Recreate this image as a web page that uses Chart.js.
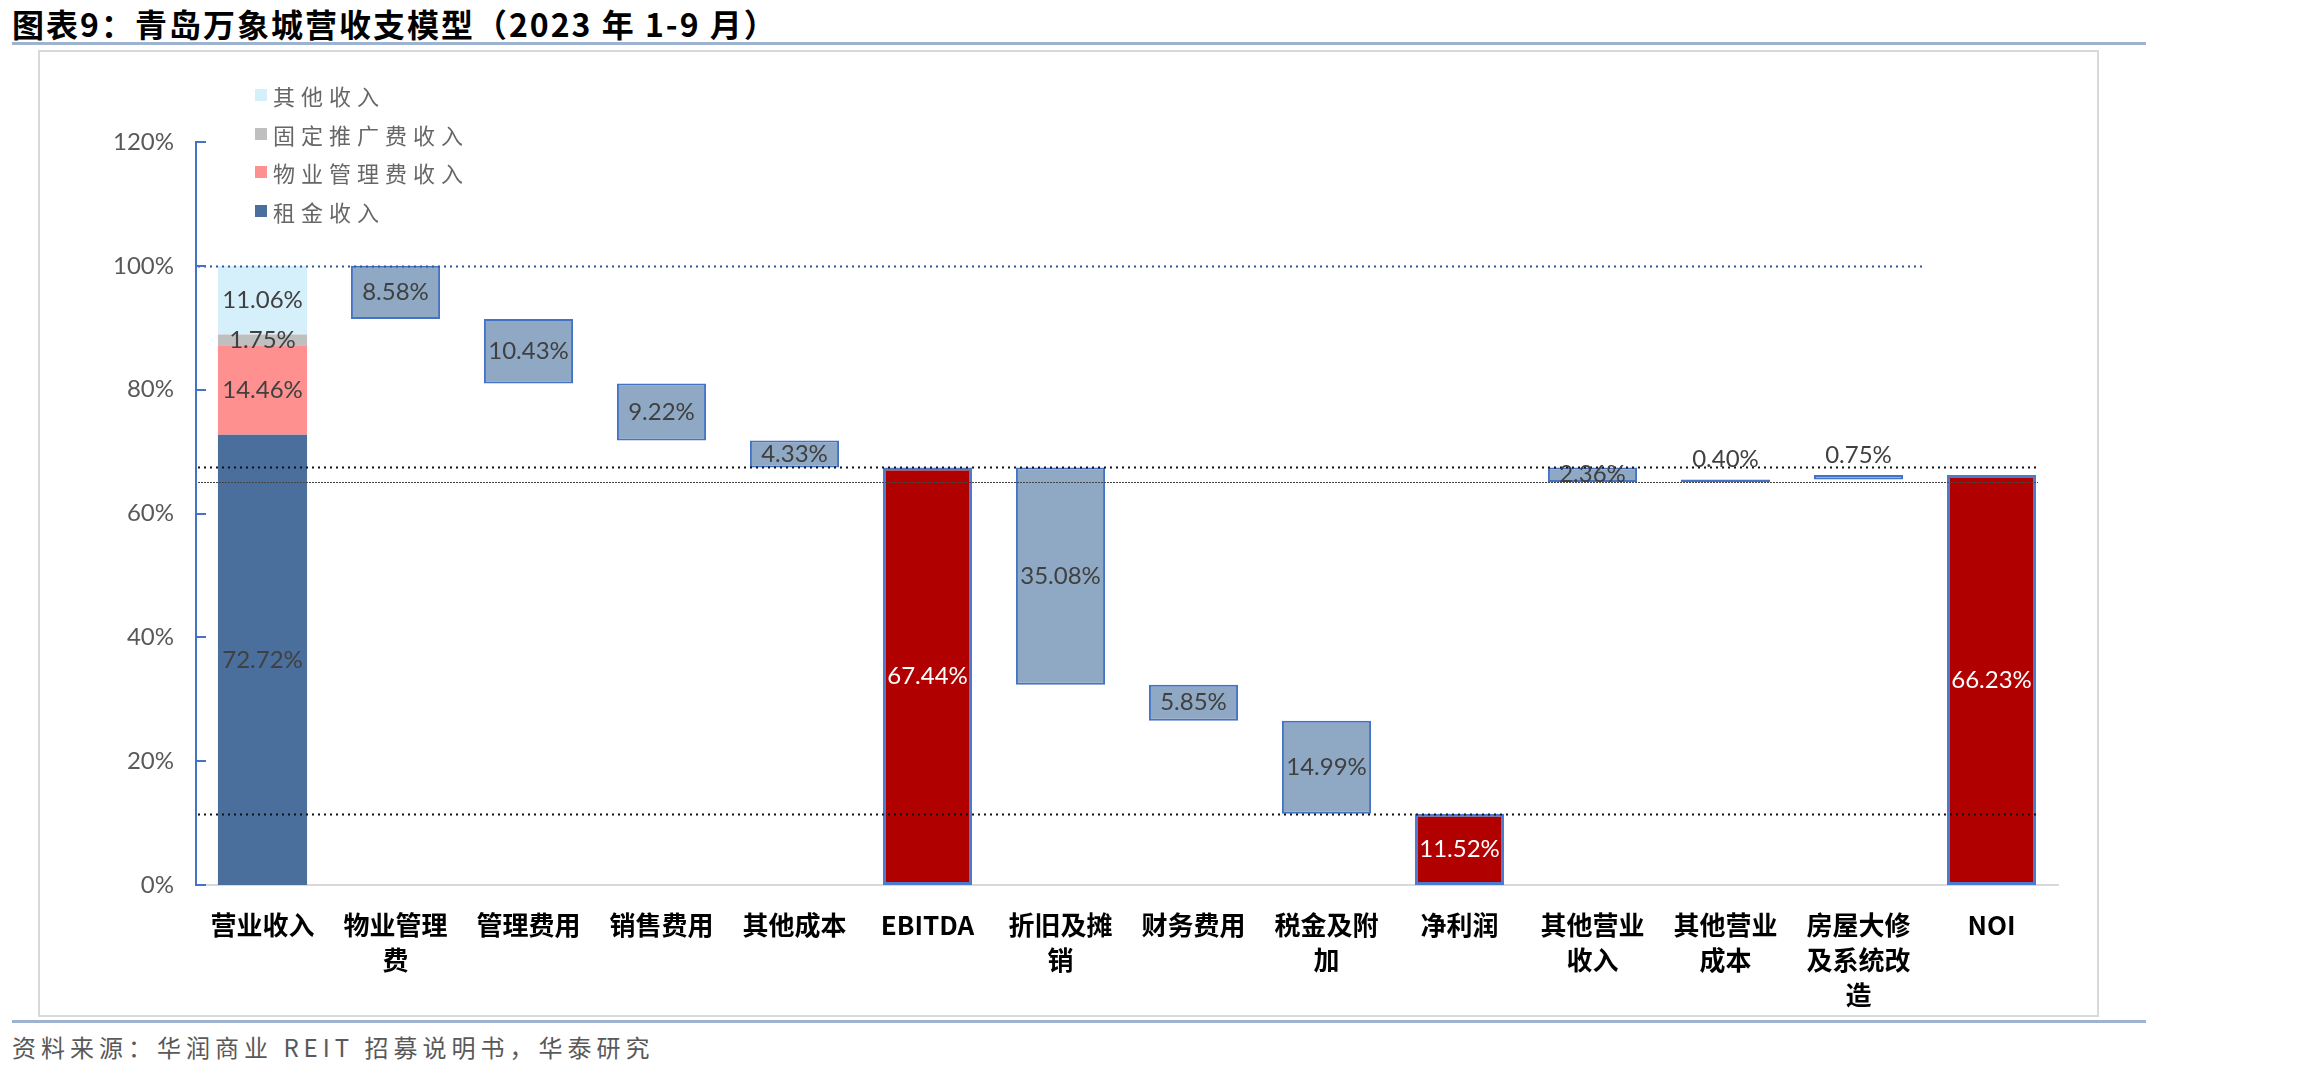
<!DOCTYPE html>
<html>
<head>
<meta charset="utf-8">
<script src="https://cdn.jsdelivr.net/npm/chart.js@4.4.1/dist/chart.umd.min.js"></script>
<style>
  body { margin: 0; width: 2298px; height: 1076px; background: #fff; position: relative; overflow: hidden; }
  #title { position: absolute; left: 12px; top: 0px; font: bold 32px "Noto Sans CJK SC"; letter-spacing: 2px; color: #000; }
  .rule { position: absolute; left: 12px; width: 2134px; height: 3px; background: #9DB3CF; }
  #box { position: absolute; left: 38px; top: 50px; width: 2057px; height: 963px; border: 2px solid #D9D9D9; }
  #source { position: absolute; left: 12px; top: 1029px; font: 24px "Noto Sans CJK SC"; letter-spacing: 5px; color: #595959; }
  #legend { position: absolute; left: 255px; top: 76px; z-index: 2; }
  .item { height: 38.5px; display: flex; align-items: center; font: 22px "Noto Sans CJK SC"; letter-spacing: 6px; color: #666; }
  .item span { width: 12px; height: 12px; margin-right: 6px; }
  canvas { position: absolute; left: 0; top: 0; z-index: 1; }
</style>
</head>
<body>
<div id="title">图表9：青岛万象城营收支模型（2023 年 1-9 月）</div>
<div class="rule" style="top:42px"></div>
<div id="box"></div>
<div class="rule" style="top:1020px"></div>
<div id="source">资料来源：华润商业 REIT 招募说明书，华泰研究</div>
<div id="legend"></div>
<canvas id="chart" width="2298" height="1076"></canvas>
<script>
// categories on the x axis
const categories = ['营业收入', '物业管理费', '管理费用', '销售费用', '其他成本', 'EBITDA', '折旧及摊销',
  '财务费用', '税金及附加', '净利润', '其他营业收入', '其他营业成本', '房屋大修及系统改造', 'NOI'];

// revenue split of the first bar (%)
const revenueNames = ['租金收入', '物业管理费收入', '固定推广费收入', '其他收入'];
const revenueValues = [72.72, 14.46, 1.75, 11.06];
const revenueColors = ['#4A6F9C', '#FF9090', '#BFBFBF', '#D5F0FB'];

// waterfall steps (%), negative = cost taken off, positive = added back
const stepValues = [null, -8.58, -10.43, -9.22, -4.33, null, -35.08, -5.85, -14.99, null, -2.36, 0.40, 0.75, null];
// subtotal bars (%)
const totalValues = [null, null, null, null, null, 67.44, null, null, null, 11.52, null, null, null, 66.23];

const yTicks = [0, 20, 40, 60, 80, 100, 120];

// excel wraps the long chinese labels every 4 characters
function wrapLabel(s) {
  if (/^[A-Za-z]+$/.test(s)) return s;
  const lines = [];
  for (let i = 0; i < s.length; i += 4) lines.push(s.slice(i, i + 4));
  return lines;
}

// revenue stack as floating segments
const n = categories.length;
let acc = 0;
const revenueSets = revenueValues.map((v, k) => {
  const data = new Array(n).fill(null);
  data[0] = [acc, acc + v];
  acc += v;
  return {
    label: revenueNames[k], data: data, backgroundColor: revenueColors[k],
    borderWidth: 0, amounts: [v], labelColor: '#404040', order: 2
  };
});

// floating step bars
let level = Math.round(acc);
const stepData = new Array(n).fill(null);
categories.forEach((c, i) => {
  if (c === '其他营业收入') level = totalValues[categories.indexOf('EBITDA')];
  if (totalValues[i] !== null) { level = totalValues[i]; return; }
  if (stepValues[i] === null) return;
  stepData[i] = [level, level + stepValues[i]];
  level += stepValues[i];
});
const totalData = totalValues.map(v => v === null ? null : [0, v]);

// legend built from the revenue series, top item first like the original
const legend = document.getElementById('legend');
revenueNames.slice().reverse().forEach((name, k) => {
  const color = revenueColors[revenueNames.length - 1 - k];
  legend.insertAdjacentHTML('beforeend', '<div class="item"><span style="background:' + color + '"></span>' + name + '</div>');
});

const fmt = v => Math.abs(v).toFixed(2) + '%';

const guidePlugin = {
  id: 'guides',
  afterDatasetsDraw(chart) {
    const { ctx, chartArea, scales: { x, y } } = chart;
    const half = (x.getPixelForValue(1) - x.getPixelForValue(0)) / 2;
    const ebitda = totalValues[categories.indexOf('EBITDA')];
    const net = totalValues[categories.indexOf('净利润')];
    const bridgeLow = ebitda + stepValues[categories.indexOf('其他营业收入')];
    const noiRight = x.getPixelForValue(n - 1) + half * 0.7;
    const lines = [
      { v: Math.round(acc), to: x.getPixelForValue(n - 2) + half, color: '#2F5597', w: 2, dash: [2, 4] },
      { v: ebitda, to: noiRight, color: '#111', w: 2, dash: [2, 4] },
      { v: bridgeLow, to: noiRight, color: '#444', w: 1.2, dash: [2, 1] },
      { v: net, to: noiRight, color: '#111', w: 2, dash: [2, 4] }
    ];
    ctx.save();
    lines.forEach(l => {
      const py = Math.round(y.getPixelForValue(l.v)) + 0.5;
      ctx.strokeStyle = l.color;
      ctx.lineWidth = l.w;
      ctx.setLineDash(l.dash);
      ctx.beginPath();
      ctx.moveTo(chartArea.left + 2, py);
      ctx.lineTo(l.to, py);
      ctx.stroke();
    });
    ctx.setLineDash([]);
    // tick marks point into the plot
    ctx.strokeStyle = '#4472C4';
    ctx.lineWidth = 2;
    yTicks.forEach(t => {
      const py = Math.round(y.getPixelForValue(t));
      ctx.beginPath();
      ctx.moveTo(chartArea.left, py);
      ctx.lineTo(chartArea.left + 10, py);
      ctx.stroke();
    });
    // value labels
    ctx.font = '24px Lato';
    ctx.textAlign = 'center';
    ctx.textBaseline = 'middle';
    chart.data.datasets.forEach((ds, di) => {
      const meta = chart.getDatasetMeta(di);
      let k = 0;
      meta.data.forEach((el, i) => {
        if (ds.data[i] === null) return;
        const p = el.getProps(['x', 'y', 'base'], true);
        const amount = ds.amounts[k++];
        const h = Math.abs(p.base - p.y);
        const ty = h < 8 ? Math.min(p.y, p.base) - 20 : (p.y + p.base) / 2;
        ctx.fillStyle = ds.labelColor;
        ctx.fillText(fmt(amount), p.x, ty);
      });
    });
    ctx.restore();
  }
};

const chart = new Chart(document.getElementById('chart'), {
  type: 'bar',
  data: {
    labels: categories.map(wrapLabel),
    datasets: [
      ...revenueSets,
      {
        label: '成本', data: stepData, backgroundColor: '#8FA9C5', borderColor: '#4472C4',
        borderWidth: 2, borderSkipped: false, amounts: stepValues.filter(v => v !== null),
        labelColor: '#404040', order: 1
      },
      {
        label: '合计', data: totalData, backgroundColor: '#B00000', borderColor: '#4A7BD0',
        borderWidth: 3, borderSkipped: false, amounts: totalValues.filter(v => v !== null),
        labelColor: '#FFFFFF', order: 1
      }
    ]
  },
  options: {
    responsive: false,
    animation: false,
    categoryPercentage: 1,
    barPercentage: 0.67,
    layout: { padding: { left: 96, top: 142, right: 240, bottom: 41 } },
    plugins: { legend: { display: false }, tooltip: { enabled: false } },
    scales: {
      x: {
        stacked: true,
        grid: { display: false },
        border: { color: '#D9D9D9', width: 2 },
        ticks: {
          autoSkip: false, maxRotation: 0, padding: 14, color: '#000',
          font: { family: 'Noto Sans CJK SC', size: 26, weight: 'bold', lineHeight: 1.36 }
        },
        afterFit: s => { s.height = 150; }
      },
      y: {
        stacked: false,
        min: 0, max: 120,
        grid: { display: false, drawTicks: false },
        border: { color: '#4472C4', width: 2 },
        ticks: {
          stepSize: 20, padding: 22, color: '#595959',
          font: { family: 'Lato', size: 24 },
          callback: v => v + '%'
        },
        afterFit: s => { s.width = 100; }
      }
    }
  },
  plugins: [guidePlugin]
});
document.fonts.ready.then(() => chart.update());
</script>
</body>
</html>
